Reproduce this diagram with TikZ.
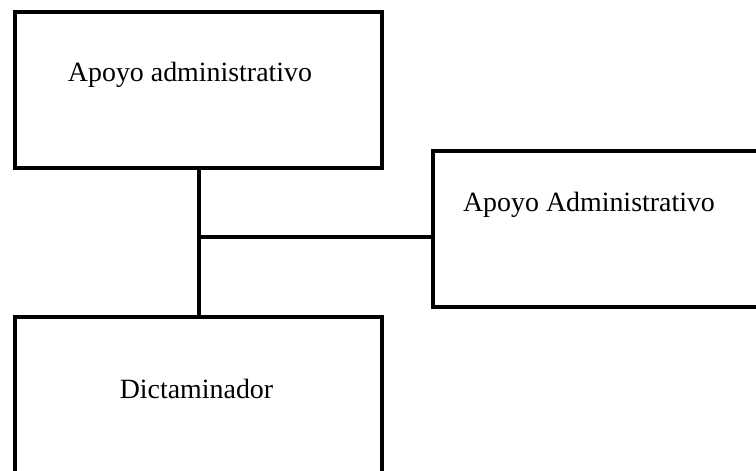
\documentclass[tikz,border=0pt]{standalone}
\usepackage{fontspec}
\setmainfont{Liberation Serif}
\usepackage{tikz}

\begin{document}
\begin{tikzpicture}[x=1bp,y=-1bp]

	\tikzstyle box lines=[draw, line width=4.2bp, minimum width=367bp, minimum height=156bp, inner sep=0pt];
	\tikzstyle box text=[anchor=base, font=\fontsize{28}{33}\selectfont, inner sep=0pt];
	\tikzstyle link lines=[line width=4.2bp];

	\clip (0,0) rectangle (756,471);
	\useasboundingbox (0,0) rectangle (756,471);

	% the three boxes
	\node[box lines, anchor=north west] (apoyo) at (13,10) {};
	\node[box lines, anchor=north west, minimum width=340bp] (apoyoder) at (430.5,149) {};
	\node[box lines, anchor=north west] (dictam) at (13,315) {};

	\node[box text] (apoyotxt) at (190,82) {Apoyo administrativo};
	\node[box text] (apoyodertxt) at (589,212) {Apoyo Administrativo};
	\node[box text] (dictamtxt) at (196.5,398) {Dictaminador};

	% connectors
	\draw[link lines] (apoyo.south) -- (dictam.north);
	\coordinate (tee) at (196.5,237.3);
	\draw[link lines, line width=3.8bp] (tee) -- (tee -| apoyoder.west);

\end{tikzpicture}
\end{document}
